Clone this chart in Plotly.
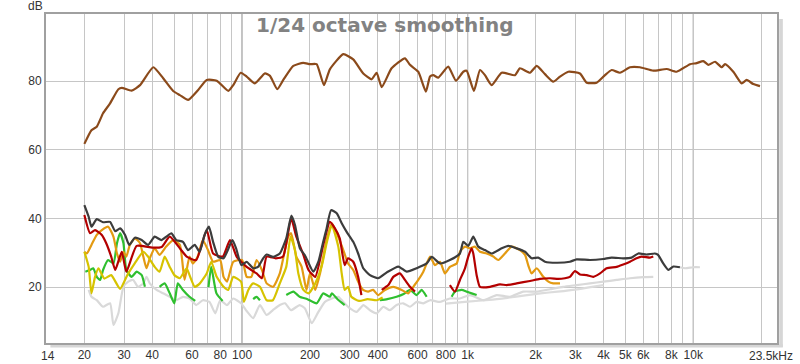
import math
import plotly.graph_objects as go

# ---------------- data (frequency Hz, level dB) ----------------
fundamental = [(20, 61.7), (21.5, 65.7), (22.7, 66.7), (24.2, 70.6), (26.0, 73.5), (28.3, 77.6), (29.3, 78.0),
               (32.4, 77.2), (35.3, 78.8), (40.4, 84.0), (44.7, 80.8), (49.5, 77.1), (53.0, 75.9), (57.7, 74.5),
               (63.9, 77.4), (69.7, 80.3), (77.2, 80.1), (86.9, 77.1), (91.4, 78.8), (98.6, 82.4), (104.8, 81.3),
               (114, 79.3), (126.3, 82.2), (133, 81.5), (143.2, 77.6), (152.3, 80.3), (168.7, 84.4), (186.7, 85.3),
               (200, 84.9), (214, 84.9), (230.7, 78.8), (245, 83.4), (281, 87.8), (311, 86.3), (344.5, 82.2),
               (375, 80.5), (395, 82.4), (416, 78.2), (460, 83.7), (527, 86.6), (555, 84.7), (604, 82.7),
               (653, 76.9), (681, 81.3), (704, 81.7), (741, 81.0), (820, 84.2), (887, 80.1), (956, 82.7),
               (990, 83.0), (1066, 77.1), (1134, 83.2), (1193, 81.7), (1277, 78.8), (1415, 82.4), (1621, 81.7),
               (1705, 83.7), (1889, 82.4), (2023, 84.4), (2201, 82.0), (2395, 79.8), (2566, 81.3), (2792, 82.7),
               (3147, 82.2), (3370, 79.5), (3731, 79.5), (4061, 81.7), (4348, 83.2), (4732, 82.4), (5241, 84.0),
               (5803, 84.0), (6648, 83.0), (7624, 83.5), (8443, 82.7), (9670, 84.9), (10354, 85.2), (11076, 85.8),
               (11655, 84.7), (12485, 85.6), (13365, 84.0), (13822, 84.9), (15044, 82.7), (16389, 79.3),
               (17250, 80.3), (18450, 79.1), (19755, 78.5)]

thd = [(20, 43.9), (20.9, 40.5), (21.5, 37.6), (22.7, 39.8), (24.2, 38.9), (26.0, 39.0), (27.4, 36.3), (28.8, 37.1),
       (30.3, 35.2), (31.6, 32.3), (33.5, 34.4), (35.9, 33.7), (38.3, 32.3), (41, 34.7), (43.9, 33.7), (46.2, 34.7),
       (48.6, 35.7), (51.1, 33.7), (54.7, 33.2), (57.6, 30.8), (61.7, 32.3), (64.9, 30.3), (68.2, 35.2), (71.3, 37.6),
       (74.4, 33.2), (78.5, 28.8), (82.8, 28.4), (85.8, 30.3), (90.6, 33.7), (94.1, 31.3), (99.3, 26.4),
       (104.8, 27.4), (112.1, 25.5), (118, 26.0), (124, 28.4), (128.5, 29.5), (137.4, 28.8), (147, 29.8),
       (157, 34.2), (165.4, 40.8), (171.6, 38.1), (180.4, 31.3), (189.9, 29.3), (207, 24.5), (217.9, 27.4),
       (229, 33.2), (237, 37.1), (248, 42.4), (262.8, 41.5), (276.5, 38.6), (290.8, 36.1), (311, 33.2),
       (327, 29.8), (344.5, 25.5), (369, 23.5), (401, 22.6), (438, 24.3), (493, 26.0), (537, 24.5), (594, 25.5),
       (658, 26.9), (693, 28.8), (754, 26.9), (834, 27.9), (924, 29.8), (956, 33.2), (1006, 32.0), (1059, 34.7),
       (1114, 31.8), (1193, 30.8), (1277, 29.8), (1415, 31.3), (1513, 32.0), (1648, 31.3), (1796, 30.3),
       (1921, 28.4), (2055, 28.6), (2201, 27.4), (2480, 27.1), (2839, 27.4), (3040, 28.1), (3485, 27.9),
       (3991, 28.2), (4348, 28.6), (4891, 28.4), (5327, 28.6), (5706, 29.8), (6207, 29.5), (6754, 29.8),
       (6981, 29.4), (7359, 26.9), (7752, 25.0), (8158, 26.0), (8725, 25.8)]

h2 = [(20, 41.0), (21.2, 35.7), (22.3, 36.6), (23.9, 35.2), (25, 32.8), (26.3, 28.9), (27.4, 25.0), (29.3, 30.3),
      (30.7, 24.5), (34.1, 32.0), (40, 31.5), (44, 31.7), (47.8, 34.7), (53, 31.3), (56.8, 28.9), (62.6, 27.9),
      (69.7, 36.6), (74.4, 29.8), (82.1, 28.9), (88.4, 33.7), (94.6, 28.9), (104.8, 25.9), (116, 24.0),
      (122.5, 22.6), (128.5, 28.9), (141, 28.4), (152, 28.9), (165, 40.0), (174, 34.7), (187, 29.4), (197, 25.0),
      (211, 23.0), (229, 32.3), (245, 39.0), (258, 37.1), (271, 34.2), (285, 26.4), (295, 28.4), (311, 27.4),
      (327, 23.0), (338, 17.7), (370, None), (416, 19.2), (445, 20.6), (468, 23.0), (501, 24.0), (527, 22.1),
      (555, 20.1), (584, 18.7), (700, None), (834, 20.6), (878, 18.7), (924, 22.1), (973, 25.5), (1006, 28.9),
      (1041, 31.3), (1059, 29.8), (1096, 23.5), (1134, 20.1), (1256, 20.1), (1390, 20.8), (1489, 20.6),
      (1648, 21.1), (1889, 21.8), (2089, 22.4), (2318, 22.6), (2520, 22.4), (2698, 22.6), (2839, 23.0),
      (2990, 24.7), (3147, 23.7), (3370, 23.5), (3604, 23.0), (3861, 24.0), (4131, 25.5), (4575, 25.9),
      (4891, 26.6), (5241, 27.4), (5605, 28.4), (5898, 28.9), (6428, 28.6), (6648, 28.9)]

h3 = [(20, 30.3), (20.5, 29.8), (21.5, 32.3), (22.7, 35.2), (23.9, 36.6), (25.5, 37.6), (26.9, 34.7), (27.9, 29.8),
      (28.8, 27.4), (29.8, 30.3), (30.7, 28.9), (31.8, 32.3), (33.5, 34.2), (35.3, 32.8), (36.5, 28.9),
      (37.7, 25.5), (39, 28.4), (41, 31.3), (43.1, 29.4), (46.1, 31.8), (49.5, 33.7), (53, 32.3), (55.6, 22.1),
      (58.5, 28.9), (60.5, 26.9), (63.6, 28.9), (67, 33.7), (70.6, 30.8), (74.4, 27.4), (80, 27.9), (82.8, 23.0),
      (85.8, 21.6), (91.4, 27.4), (100, 27.9), (104.8, 23.0), (110, 23.0), (116, 27.9), (122.5, 25.0),
      (128.5, 21.1), (137.4, 20.1), (147, 24.0), (160, 34.7), (165, 35.7), (174, 28.9), (183.6, 26.0),
      (193, 19.2), (200, 24.0), (211, 19.2), (221.6, 24.0), (237, 33.7), (250, 38.6), (263, 35.7), (281, 30.8),
      (295, 26.9), (311, 25.0), (327, 21.6), (344, 19.2), (362, 18.7), (381, 19.2), (401, 17.7), (430, 19.2),
      (468, 20.1), (510, 19.2), (545, 18.2), (574, 20.1), (604, 22.1), (636, 24.5), (681, 28.9), (716, 26.4),
      (754, 27.4), (793, 24.0), (834, 25.9), (894, 26.9), (924, 30.3), (973, 31.8), (1024, 31.3), (1077, 31.8),
      (1134, 30.3), (1214, 29.8), (1299, 28.9), (1367, 27.9), (1463, 29.8), (1567, 31.8), (1705, 30.8),
      (1796, 29.4), (1855, 26.4), (1921, 24.0), (2023, 25.5), (2164, 23.0), (2279, 21.6), (2395, 21.1),
      (2566, 21.1)]

h4 = [(20, 30.3), (20.9, 25.9), (21.5, 18.2), (22.3, 23.0), (23.1, 25.5), (24.5, 22.5), (26.3, 23.5), (28.8, 19.5),
      (31, 23.5), (33.5, 27.0), (36.5, 30.3), (38.3, 28.9), (41, 25.9), (43.1, 24.5), (45.4, 28.9), (47.8, 25.9),
      (50.1, 23.5), (53, 22.6), (56.8, 25.5), (58.5, 23.5), (61.7, 20.1), (65, 21.1), (69.7, 24.0), (73, 27.4),
      (77.2, 23.0), (82.8, 20.1), (86.9, 19.2), (91.4, 23.0), (99, 21.6), (101.9, 15.7), (106.6, 19.2),
      (112, 21.1), (120, 20.1), (128.5, 16.2), (137, 16.2), (147, 21.1), (157, 25.9), (164, 34.7), (171.6, 30.8),
      (177.6, 24.0), (187, 19.2), (197, 18.2), (211, 21.1), (226, 26.4), (237, 32.8), (250, 38.1), (267, 31.8),
      (276.5, 24.0), (285, 19.2), (295, 20.1), (305, 17.2), (330, 16.0), (360, 16.5), (395, 16.2), (420, 17.0)]

h5 = [(20.2, 24.5), (21.2, 25.0), (21.9, 25.5), (22.7, 23.0), (23.5, 22.1), (24.2, 25.0), (25.5, 27.9),
      (26.9, 26.9), (27.9, 32.8), (28.8, 35.7), (29.8, 32.8), (30.7, 25.0), (32.4, 23.0), (34.1, 24.5),
      (35.9, 23.5), (37.1, 20.1), (40, None), (43.1, 20.1), (45.4, 21.1), (47.8, 18.2), (50.1, 15.3),
      (51.9, 21.1), (54.7, 19.2), (58.5, 17.2), (62, 16.0), (66, None), (71, 20.0), (73, 25.9), (77, 18.2),
      (82, 16.0), (95, None), (112, 16.5), (116, 17.2), (120, 16.2), (140, None), (157, 17.7), (169, 18.7),
      (180, 17.2), (195, 16.5), (214, 15.3), (229, 18.2), (245, 17.2), (250, 18.2), (265, 16.5), (285, 14.8),
      (340, None), (408, 16.2), (440, 16.5), (484, 17.2), (520, 18.0), (555, 19.2), (594, 17.7), (625, 19.2),
      (658, 17.2), (750, None), (849, 17.2), (878, 18.7), (940, 19.2), (990, 18.7), (1041, 18.2), (1096, 17.7)]

noise = [(20.9, 19.2), (21.5, 17.2), (22.7, 16.2), (24.2, 14.3), (26, 15.3), (26.9, 9.0), (28.3, 12.4),
         (29.8, 20.1), (31.3, 21.6), (32.9, 22.1), (34.6, 20.1), (36.5, 21.1), (37.7, 23.0), (39, 21.1),
         (41.8, 19.2), (44.7, 18.2), (47.8, 17.2), (51.1, 16.2), (54.7, 17.2), (58.5, 16.7), (62.6, 14.8),
         (67, 16.2), (71.7, 15.7), (76.1, 12.4), (80, 16.2), (85.8, 14.8), (91.4, 16.7), (99, 15.3), (105, 13.0),
         (112, 11.0), (120, 14.8), (128.5, 11.9), (137, 13.3), (147, 14.8), (155, 15.3), (165, 13.3),
         (180, 14.8), (190, 13.8), (203.7, 9.5), (218, 12.8), (233, 15.7), (250, 16.7), (267, 17.2), (281, 15.7),
         (301, 13.8), (322, 12.8), (345, 14.8), (369, 13.3), (395, 12.4), (423, 14.3), (452, 13.3), (484, 14.8),
         (518, 15.3), (555, 14.3), (594, 15.7), (636, 15.3), (681, 16.2), (754, 15.7), (834, 16.7), (924, 16.7),
         (1024, 17.7), (1172, 16.2), (1344, 17.7), (1539, 17.2), (1763, 18.7), (2023, 18.7), (2318, 19.4),
         (2650, 20.1), (3040, 20.6), (3485, 21.1), (3991, 21.6), (4575, 22.1), (5241, 22.6), (6000, 22.9),
         (6648, 23.0)]

noise_b = [(800, 15.2), (1000, 15.8), (1250, 16.3), (1500, 16.9), (1800, 17.6), (2100, 18.2), (2500, 18.7),
           (3000, 19.3), (3500, 20.0), (4000, 20.6)]

thd_tail = [(8725, 25.8), (9200, 25.5), (10000, 25.8), (10700, 25.8)]

grid_freqs = [20, 30, 40, 50, 60, 70, 80, 90, 100, 200, 300, 400, 500, 600, 700, 800, 900,
              1000, 2000, 3000, 4000, 5000, 6000, 7000, 8000, 9000, 10000, 20000]
grid_labels = ["20", "30", "40", "", "60", "", "80", "", "100", "200", "300", "400", "", "600", "", "800", "",
               "1k", "2k", "3k", "4k", "5k", "6k", "", "8k", "", "10k", ""]
decade_freqs = [100, 1000, 10000]
y_ticks = [20, 40, 60, 80]
x_min, x_max = 13.52, 23500
y_min, y_max = 3.75, 99.5

series = [
    ("Noise B", noise_b, "#dcdcdc"),
    ("Noise", noise, "#d9d9d9"),
    ("THD tail", thd_tail, "#d9d9d9"),
    ("H5", h5, "#2fbf2f"),
    ("H3", h3, "#e39a12"),
    ("H4", h4, "#d6c300"),
    ("H2", h2, "#b30000"),
    ("THD", thd, "#3c3c3c"),
    ("Fundamental", fundamental, "#8b4a1b"),
]

fig = go.Figure()
for name, pts, color in series:
    fig.add_trace(go.Scatter(
        x=[p[0] for p in pts], y=[p[1] for p in pts], name=name, mode="lines",
        line=dict(color=color, width=2.2, shape="spline", smoothing=0.5),
        connectgaps=False, showlegend=False, hoverinfo="skip"))

shapes = []
for f in decade_freqs:
    shapes.append(dict(type="line", xref="x", yref="paper", x0=f, x1=f, y0=0, y1=1,
                       line=dict(color="#7a7a7a", width=1), layer="between"))
# drop shadow of the frame
shapes.append(dict(type="rect", xref="paper", yref="paper", x0=1.003, x1=1.008, y0=-0.012, y1=0.985,
                   line=dict(width=0), fillcolor="#d6d6d6", layer="below"))
shapes.append(dict(type="rect", xref="paper", yref="paper", x0=0.006, x1=1.008, y0=-0.014, y1=-0.004,
                   line=dict(width=0), fillcolor="#d6d6d6", layer="below"))

font = "Liberation Sans, Arial, sans-serif"
annotations = [
    dict(text="<b>1/24 octave smoothing</b>", xref="paper", yref="paper", x=0.4637, y=0.967,
         xanchor="center", yanchor="middle", showarrow=False,
         font=dict(family="DejaVu Sans, sans-serif", size=20, color="#828282")),
    dict(text="dB", xref="paper", yref="paper", x=-0.015, y=1.024, xanchor="center", yanchor="middle",
         showarrow=False, font=dict(family=font, size=12, color="#333333")),
    dict(text="14", xref="x", yref="paper", x=math.log10(14), y=0, yshift=-13, xshift=-1,
         xanchor="center", yanchor="middle", showarrow=False, font=dict(family=font, size=12, color="#333333")),
    dict(text="23.5kHz", xref="x", yref="paper", x=math.log10(x_max), y=0, yshift=-13, xshift=-6,
         xanchor="center", yanchor="middle", showarrow=False, font=dict(family=font, size=12, color="#333333")),
]

fig.update_layout(
    width=800, height=364,
    margin=dict(l=46, r=23, t=14, b=21, autoexpand=False),
    paper_bgcolor="white", plot_bgcolor="white",
    showlegend=False,
    shapes=shapes, annotations=annotations,
    xaxis=dict(type="log", range=[math.log10(x_min), math.log10(x_max)], automargin=False,
               tickmode="array", tickvals=grid_freqs, ticktext=grid_labels,
               showgrid=True, gridcolor="#c6c6c6", gridwidth=1, ticks="",
               showline=True, linecolor="#a0a0a0", linewidth=2, mirror=True, zeroline=False,
               tickfont=dict(family=font, size=12, color="#333333")),
    yaxis=dict(range=[y_min, y_max], tickmode="array", tickvals=y_ticks, automargin=False,
               showgrid=True, gridcolor="#c6c6c6", gridwidth=1, ticks="",
               showline=True, linecolor="#a0a0a0", linewidth=2, mirror=True, zeroline=False,
               tickfont=dict(family=font, size=12, color="#333333")),
)

fig.write_html("out.html", config={"displayModeBar": False},
               post_script="document.body.style.margin='0px';document.body.style.padding='0px';")
